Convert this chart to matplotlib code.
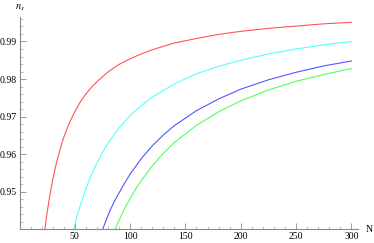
import numpy as np
import matplotlib
matplotlib.use("Agg")
import matplotlib.pyplot as plt
from matplotlib.ticker import MultipleLocator, FixedLocator

plt.rcParams["mathtext.fontset"] = "stix"

# curves (N, n_s)
red_N = [23, 24, 25, 27, 30, 33, 36, 40, 45, 50, 55, 60, 65, 70, 80, 90, 100, 110, 120, 140,
         160, 180, 200, 225, 250, 275, 300]
red_ns = [0.9400, 0.9424, 0.9445, 0.9483, 0.9532, 0.9572, 0.9606, 0.9645, 0.9683, 0.9713,
          0.9739, 0.9760, 0.9778, 0.9793, 0.9819, 0.9839, 0.9854, 0.9867, 0.9878, 0.9896,
          0.9908, 0.9919, 0.9927, 0.9935, 0.9941, 0.9947, 0.9951]

cyan_N = [49, 50, 52, 55, 60, 65, 70, 75, 80, 90, 100, 110, 120, 140, 160, 180, 200, 225, 250,
          275, 300]
cyan_ns = [0.9400, 0.9412, 0.9436, 0.9464, 0.9508, 0.9545, 0.9577, 0.9605, 0.9629, 0.9670,
           0.9703, 0.9729, 0.9752, 0.9787, 0.9814, 0.9834, 0.9850, 0.9867, 0.9880, 0.9891,
           0.9900]

blue_N = [75.2, 78, 82, 86, 90, 95, 100, 110, 120, 130, 140, 160, 180, 200, 225, 250, 275, 300]
blue_ns = [0.9400, 0.9422, 0.9451, 0.9476, 0.9497, 0.9523, 0.9547, 0.9588, 0.9622, 0.9651,
           0.9676, 0.9716, 0.9747, 0.9773, 0.9798, 0.9818, 0.9835, 0.9848]

green_N = [86.4, 90, 95, 100, 105, 110, 120, 130, 140, 160, 180, 200, 225, 250, 275, 300]
green_ns = [0.9400, 0.9424, 0.9455, 0.9482, 0.9507, 0.9529, 0.9569, 0.9602, 0.9631, 0.9677,
            0.9713, 0.9742, 0.9771, 0.9794, 0.9812, 0.9828]

x_ticks = [50, 100, 150, 200, 250, 300]
y_ticks = [0.95, 0.96, 0.97, 0.98, 0.99]

W, H = 374, 243
fig = plt.figure(figsize=(W / 100, H / 100), dpi=100)
ax = fig.add_axes([19.5 / W, (H - 229.3) / H, 338.5 / W, 212.6 / H])

ax.plot(red_N, red_ns, color="#ff5555", lw=0.8)
ax.plot(cyan_N, cyan_ns, color="#55ffff", lw=0.8)
ax.plot(blue_N, blue_ns, color="#5555ff", lw=0.8)
ax.plot(green_N, green_ns, color="#55ff55", lw=0.8)

ax.set_xlim(0, 306)
ax.set_ylim(0.94, 0.9966)

# Mathematica-like axes
for s in ["top", "right"]:
    ax.spines[s].set_visible(False)
for s in ["left", "bottom"]:
    ax.spines[s].set_color("#888888")
    ax.spines[s].set_linewidth(0.8)

ax.xaxis.set_major_locator(FixedLocator(x_ticks))
ax.xaxis.set_minor_locator(MultipleLocator(10))
ax.yaxis.set_major_locator(FixedLocator(y_ticks))
ax.yaxis.set_minor_locator(MultipleLocator(0.002))
ax.set_xticklabels([str(t) for t in x_ticks])
ax.set_yticklabels([f"{t:.2f}" for t in y_ticks])

ax.tick_params(which="major", direction="in", length=4, width=0.6, color="#888888",
               labelsize=7, pad=2)
ax.tick_params(which="minor", direction="in", length=2, width=0.5, color="#aaaaaa")
for lab in ax.get_xticklabels() + ax.get_yticklabels():
    lab.set_family("Liberation Serif")

fig.text(19.5 / W, 1 - 8 / H, r"$n_s$", ha="center", va="center", fontsize=7.5)
fig.text(369 / W, 1 - 229 / H, "N", ha="center", va="center", fontsize=7,
         family="Liberation Serif")

fig.savefig("out.png", dpi=100)
